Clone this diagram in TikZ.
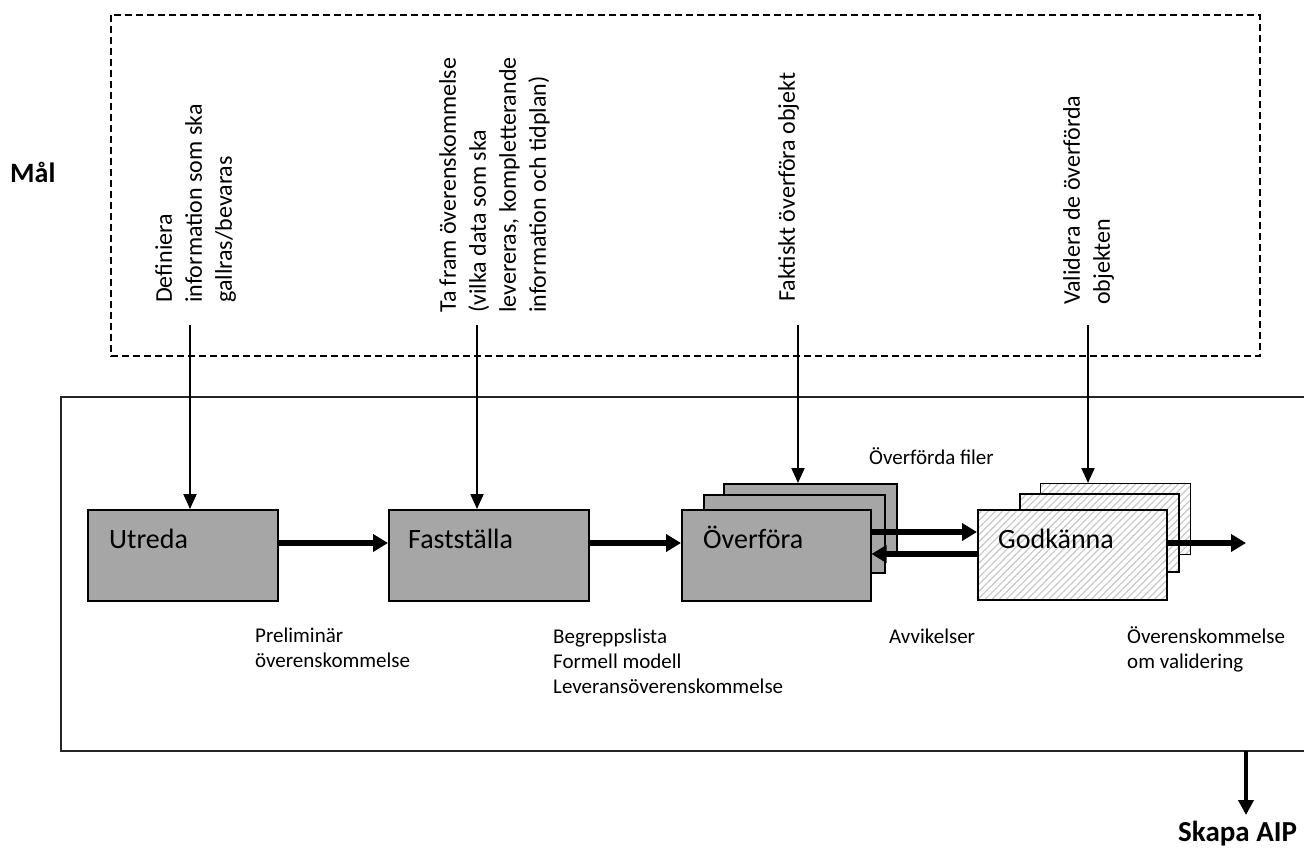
\documentclass[tikz,border=0pt]{standalone}
\usepackage{fontspec}
\setmainfont{Carlito}
\usetikzlibrary{arrows.meta,patterns.meta}
\definecolor{boxgray}{RGB}{166,166,166}
\definecolor{hatchgray}{RGB}{200,200,200}
\tikzset{
  procbox/.style={draw=black, line width=1.5pt, fill=boxgray, inner sep=0pt, anchor=north west},
  hatchbox/.style={draw=black, line width=1.5pt, inner sep=0pt, anchor=north west,
    preaction={fill=white}, pattern={Lines[angle=45,distance=5pt,line width=1.2pt]}, pattern color=hatchgray},
  boxtext/.style={font=\fontsize{28}{34}\selectfont, anchor=base west, inner sep=0pt},
  note/.style={font=\fontsize{21}{25}\selectfont, anchor=base west, align=left, inner sep=0pt},
  goal/.style={font=\fontsize{24}{30}\selectfont, rotate=90, anchor=north west, align=left, inner sep=0pt},
  headline/.style={font=\bfseries\fontsize{28}{34}\selectfont, anchor=base west, inner sep=0pt},
  thinarrow/.style={line width=2pt, -{Triangle[length=15pt,width=13pt]}},
  flowarrow/.style={line width=6pt, -{Triangle[length=15pt,width=17pt]}},
}
\begin{document}
\begin{tikzpicture}[x=1pt,y=-1pt]
    \clip (0,0) rectangle (1304,849);

    % Frames
    \draw[dash pattern=on 7pt off 4pt, line width=1.5pt] (111,15) rectangle (1260,356);
    \draw[line width=2pt, black!85] (61,397) rectangle (1330,751);

    \node[headline] (mal) at (10,182) {Mål};

    % Goals
    \node[goal] (gdef) at (155,303) {Definiera\\information som ska\\gallras/bevaras};
    \node[goal] (gfram) at (439,313) {Ta fram överenskommelse\\(vilka data som ska\\levereras, kompletterande\\information och tidplan)};
    \node[goal] (gfakt) at (778,302) {Faktiskt överföra objekt};
    \node[goal] (gval) at (1063,305) {Validera de överförda\\objekten};

    % Process steps
    \node[procbox, minimum width=190pt, minimum height=91pt] (utreda) at (87,509) {};
    \node[boxtext] (tutreda) at (109,548) {Utreda};

    \node[procbox, minimum width=200pt, minimum height=91pt] (faststalla) at (388,509) {};
    \node[boxtext] (tfaststalla) at (408,548) {Fastställa};

    \node[procbox, minimum width=173pt, minimum height=70pt] (ovback) at (723,483) {};
    \node[procbox, minimum width=181pt, minimum height=78pt] (ovmid) at (703,494) {};
    \node[procbox, minimum width=189pt, minimum height=91pt] (overfora) at (681,509) {};
    \node[boxtext] (toverfora) at (703,548) {Överföra};

    \node[hatchbox, minimum width=150pt, minimum height=71pt] (gkback) at (1040,483) {};
    \node[hatchbox, minimum width=159pt, minimum height=78pt] (gkmid) at (1019,493) {};
    \node[hatchbox, minimum width=189pt, minimum height=90pt] (godkanna) at (977,509) {};
    \node[boxtext] (tgodkanna) at (998,548) {Godkänna};

    % Goal arrows
    \coordinate (sdef) at (190,325);
    \coordinate (sfram) at (477,325);
    \coordinate (sfakt) at (798,325);
    \coordinate (sval) at (1088,325);
    \draw[thinarrow] (sdef) -- (sdef |- utreda.north);
    \draw[thinarrow] (sfram) -- (sfram |- faststalla.north);
    \draw[thinarrow] (sfakt) -- (sfakt |- ovback.north);
    \draw[thinarrow] (sval) -- (sval |- gkback.north);

    % Flow
    \coordinate (flow) at (0,543);
    \coordinate (fwd) at (0,532);
    \coordinate (ret) at (0,554);
    \coordinate (gkout) at (1246,543);
    \draw[flowarrow] (utreda.east |- flow) -- (faststalla.west |- flow);
    \draw[flowarrow] (faststalla.east |- flow) -- (overfora.west |- flow);
    \draw[flowarrow] (overfora.east |- fwd) -- (godkanna.west |- fwd);
    \draw[flowarrow] (godkanna.west |- ret) -- (overfora.east |- ret);
    \draw[flowarrow] (godkanna.east |- flow) -- (gkout);

    % Results (base = last line)
    \node[note] (lfiler) at (869,464) {Överförda filer};
    \node[note] (lprel) at (255,667) {Preliminär\\överenskommelse};
    \node[note] (lbegr) at (553,693) {Begreppslista\\Formell modell\\Leveransöverenskommelse};
    \node[note] (lavvik) at (889,643) {Avvikelser};
    \node[note] (lvalid) at (1127,668) {Överenskommelse\\om validering};

    % Output
    \coordinate (aipfrom) at (1246,751);
    \coordinate (aipto) at (1246,815);
    \draw[line width=4pt, -{Triangle[length=15pt,width=15pt]}] (aipfrom) -- (aipto);
    \node[headline, font=\bfseries\fontsize{29}{35}\selectfont] (aip) at (1178,841) {Skapa AIP};
\end{tikzpicture}
\end{document}
